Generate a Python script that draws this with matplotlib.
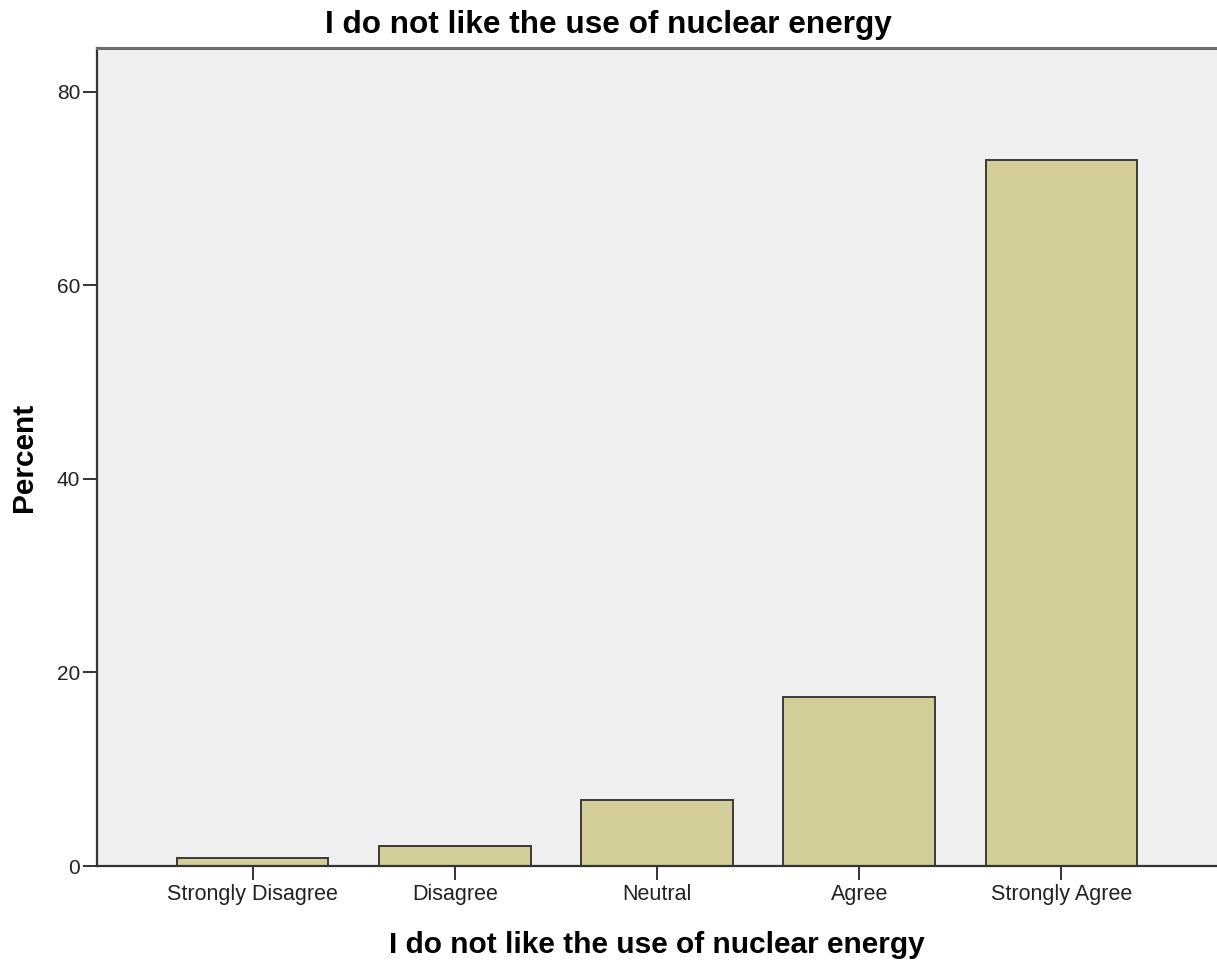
import matplotlib
matplotlib.use("Agg")
import matplotlib.pyplot as plt
import numpy as np

categories = ["Strongly Disagree", "Disagree", "Neutral", "Agree", "Strongly Agree"]
percent = [0.8, 2.1, 6.8, 17.5, 72.9]
yticks = [0, 20, 40, 60, 80]

title = "I do not like the use of nuclear energy"

plt.rcParams["font.family"] = ["Liberation Sans", "DejaVu Sans"]

fig = plt.figure(figsize=(12.17, 9.61), dpi=100)
ax = fig.add_axes([97 / 1217, 1 - 866 / 961, 1 - 97 / 1217, (866 - 48) / 961])
ax.set_facecolor("#efefef")

x = np.arange(len(categories))
ax.bar(x, percent, width=0.75, color="#d3ce98", edgecolor="#3a3a3a", linewidth=1.4, zorder=2)

ax.set_xlim(-0.77, len(categories) - 1 + 0.77)
ax.set_ylim(0, 84.5)
ax.set_yticks(yticks)
ax.set_xticks(x)
ax.set_xticklabels(categories)

for side in ["left", "bottom"]:
    ax.spines[side].set_color("#333333")
    ax.spines[side].set_linewidth(1.6)
ax.spines["top"].set_color("#6e6e6e")
ax.spines["top"].set_linewidth(2.2)
ax.spines["right"].set_visible(False)

ax.tick_params(axis="both", length=10, width=1.4, color="#333333",
               labelcolor="#222222")
ax.tick_params(axis="x", pad=3, labelsize=15.5)
ax.tick_params(axis="y", pad=2, labelsize=15)

ax.set_xlabel(title, fontsize=21.5, fontweight="bold", labelpad=19)
ax.set_ylabel("Percent", fontsize=21.5, fontweight="bold", labelpad=14)
fig.text(0.5, 1 - 25 / 961, title, ha="center", va="center",
         fontsize=22.7, fontweight="bold")

fig.savefig("out.png", dpi=100)
